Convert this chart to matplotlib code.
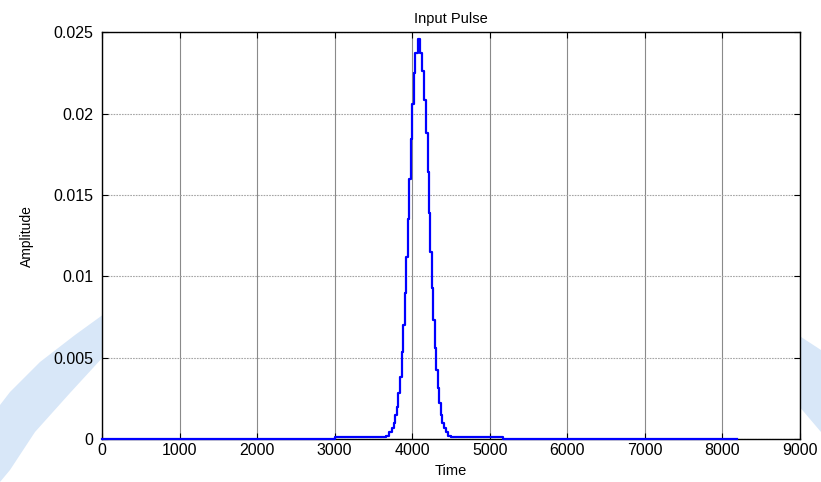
import matplotlib
matplotlib.use("Agg")
import matplotlib.pyplot as plt
from matplotlib.patches import Polygon

plt.rcParams['font.family'] = ['Liberation Sans', 'DejaVu Sans']

# ---- data ----
time_pts = [0, 2980, 3020, 3640, 3687, 3717, 3753, 3773, 3792, 3813, 3833, 3852,
            3874, 3893, 3913, 3934, 3953, 3973, 3990, 4007, 4029, 4055, 4091,
            4121, 4143, 4167, 4188, 4208, 4225, 4244, 4264, 4283, 4302, 4322,
            4341, 4358, 4378, 4399, 4421, 4449, 4479, 4513, 5150, 5180, 8192]
amplitude = [0, 0, 0.0001, 0.0001, 0.0002, 0.00045, 0.00066, 0.00097, 0.00148,
             0.00199, 0.00281, 0.00383, 0.00537, 0.00701, 0.00897, 0.01119,
             0.01352, 0.01598, 0.01844, 0.02062, 0.02247, 0.02373, 0.02459,
             0.02373, 0.02260, 0.02086, 0.01881, 0.01643, 0.01387, 0.01148,
             0.00926, 0.00731, 0.00558, 0.00424, 0.00312, 0.00219, 0.00148,
             0.00097, 0.00066, 0.00045, 0.0002, 0.0001, 0.0001, 0, 0]

x_ticks = [0, 1000, 2000, 3000, 4000, 5000, 6000, 7000, 8000, 9000]
y_ticks = [0, 0.005, 0.01, 0.015, 0.02, 0.025]
y_tick_labels = ['0', '0.005', '0.01', '0.015', '0.02', '0.025']

W, H = 821, 482
fig = plt.figure(figsize=(W / 100, H / 100), dpi=100)

# background watermark bands (decoration)
def figpoly(pts, **kw):
    p = Polygon([(x / W, 1 - y / H) for x, y in pts], closed=True,
                transform=fig.transFigure, **kw)
    fig.patches.append(p)

wm = '#d8e7f8'
figpoly([(104, 314), (75, 335), (40, 362), (10, 392), (0, 405),
         (0, 482), (10, 470), (35, 432), (70, 393), (104, 356)],
        facecolor=wm, edgecolor='none', zorder=-5)
figpoly([(798, 335), (821, 350), (821, 432), (798, 405)],
        facecolor=wm, edgecolor='none', zorder=-5)

ax = fig.add_axes([102 / W, 1 - 439 / H, (800 - 102) / W, (439 - 32.3) / H])
ax.set_zorder(1)
ax.set_facecolor('white')

ax.plot(time_pts, amplitude, color='#0000ff', linewidth=1.6,
        drawstyle='steps-mid', clip_on=False, zorder=4)

ax.set_xlim(0, 9000)
ax.set_ylim(0, 0.025)
ax.set_xticks(x_ticks)
ax.set_xticklabels([str(v) for v in x_ticks])
ax.set_yticks(y_ticks)
ax.set_yticklabels(y_tick_labels)

ax.grid(True, axis='x', color='#8a8a8a', linewidth=0.8, linestyle='-')
ax.grid(True, axis='y', color='#a5a5a5', linewidth=0.8, linestyle=(0, (1.5, 1)))
ax.set_axisbelow(True)

ax.tick_params(direction='in', length=4, width=0.8, top=True, right=True,
               labelsize=11.5, colors='black')
ax.tick_params(axis='y', pad=6)
ax.tick_params(axis='x', pad=3)
for s in ax.spines.values():
    s.set_linewidth(1.0)
    s.set_color('black')
    s.set_zorder(3)

ax.set_title('Input Pulse', fontsize=10.5, pad=7)
ax.set_xlabel('Time', fontsize=10.5, labelpad=4)
ax.set_ylabel('Amplitude', fontsize=10, labelpad=14)

fig.savefig('out.png', dpi=100)
